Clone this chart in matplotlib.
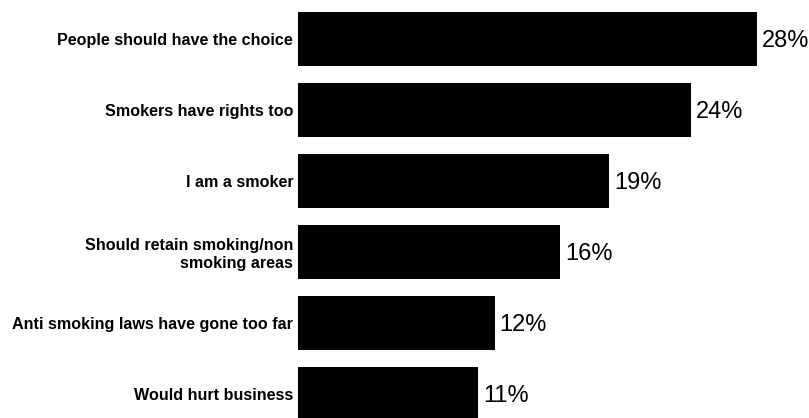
import matplotlib
matplotlib.use("Agg")
import matplotlib.pyplot as plt
import numpy as np

# Reasons given, top to bottom, with share of respondents (%)
reasons = [
    "People should have the choice",
    "Smokers have rights too",
    "I am a smoker",
    "Should retain smoking/non\nsmoking areas",
    "Anti smoking laws have gone too far",
    "Would hurt business",
]
shares = [28, 24, 19, 16, 12, 11]

plt.rcParams["font.family"] = ["Liberation Sans", "DejaVu Sans"]

fig = plt.figure(figsize=(8.09, 4.18), dpi=100)
ax = fig.add_axes([298 / 809, 0.0, 491.4 / 809, 1.0])

y = np.arange(len(reasons))
ax.barh(y, shares, height=0.76, color="black", edgecolor="none")

ax.set_xlim(0, 30)
ax.set_ylim(5.345, -0.55)

ax.set_yticks(y)
ax.set_yticklabels(reasons, fontsize=11.6, fontweight="bold")
for lab in ax.get_yticklabels():
    lab.set_linespacing(1.25)
ax.tick_params(axis="y", length=0, pad=3.5)
ax.set_xticks([])
for spine in ax.spines.values():
    spine.set_visible(False)

# Percentage just past the end of each bar
for yi, v in zip(y, shares):
    ax.annotate(f"{v}%", xy=(v, yi), xytext=(3.5, -1.8), textcoords="offset points",
                ha="left", va="center", fontsize=17)

fig.savefig("out.png", dpi=100, facecolor="white")
